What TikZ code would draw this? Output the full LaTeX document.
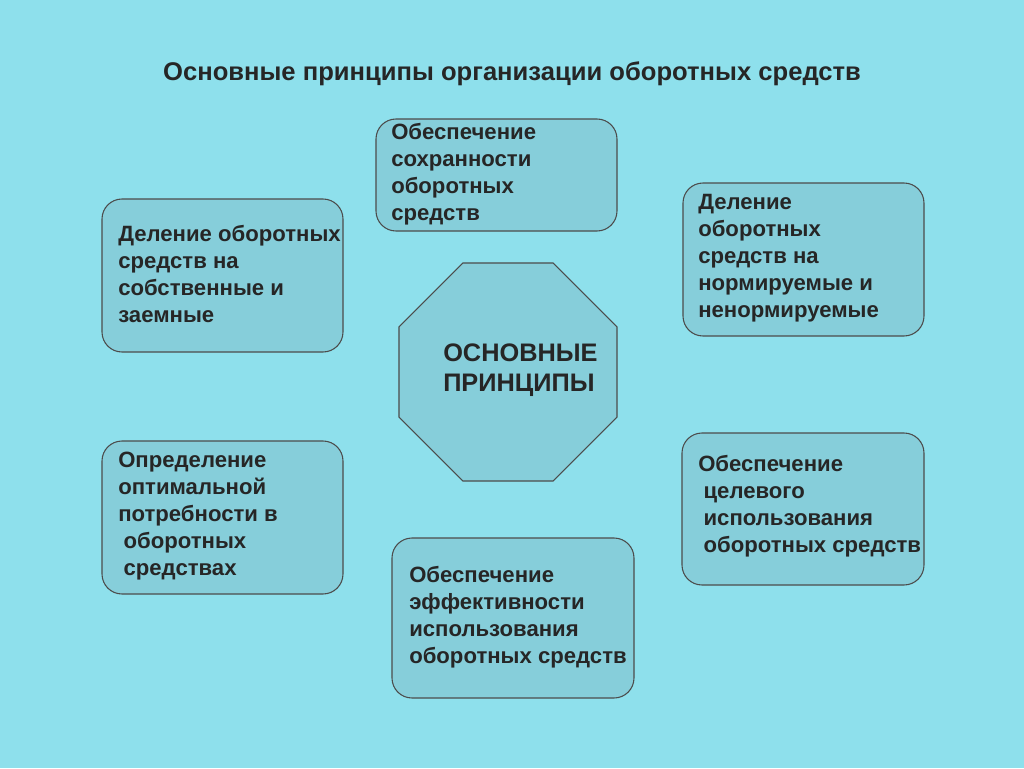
\documentclass[tikz,border=0pt]{standalone}
\usepackage{fontspec}
\setmainfont{Liberation Sans}
\usetikzlibrary{shapes.geometric}
\definecolor{bg}{RGB}{142,224,236}
\definecolor{bx}{RGB}{134,206,218}
\begin{document}
\begin{tikzpicture}[x=0.75pt,y=-0.75pt,
  box/.style={draw=black!70,fill=bx,rounded corners=15pt,line width=0.8pt},
  txt/.style={anchor=north west,inner sep=0pt,align=left,font=\bfseries\fontsize{16.6}{20.3}\selectfont,text=black!85}]
\fill[bg] (0,0) rectangle (1024,768);
\useasboundingbox (0,0) rectangle (1024,768);
\node[font=\bfseries\fontsize{19.2}{22}\selectfont,text=black!85] (title) at (512,74) {Основные принципы организации оборотных средств};
\draw[box] (376,119) rectangle (617,231);
\draw[box] (102,199) rectangle (343,352);
\draw[box] (683,183) rectangle (924,336);
\draw[box] (102,441) rectangle (343,594);
\draw[box] (682,433) rectangle (924,585);
\draw[box] (392,538) rectangle (634,698);
\node[draw=black!70,fill=bx,line width=0.8pt,regular polygon,regular polygon sides=8,minimum size=177pt,inner sep=0pt] (oct) at (508,372) {};
\node[txt,font=\bfseries\fontsize{19}{22}\selectfont] (octt) at (443,344) {ОСНОВНЫЕ\\ПРИНЦИПЫ};
\node[txt] (t1) at (391,123) {Обеспечение\\сохранности\\оборотных\\средств};
\node[txt] (t2) at (118,225) {Деление оборотных\\средств на\\собственные и\\заемные};
\node[txt] (t3) at (698,194) {Деление\\оборотных\\средств на\\нормируемые и\\ненормируемые};
\node[txt] (t4) at (118,452) {Определение\\оптимальной\\потребности в\\\hspace*{4pt}оборотных\\\hspace*{4pt}средствах};
\node[txt] (t5) at (698,455) {Обеспечение\\\hspace*{4pt}целевого\\\hspace*{4pt}использования\\\hspace*{4pt}оборотных средств};
\node[txt] (t6) at (409,566) {Обеспечение\\эффективности\\использования\\оборотных средств};
\end{tikzpicture}
\end{document}
